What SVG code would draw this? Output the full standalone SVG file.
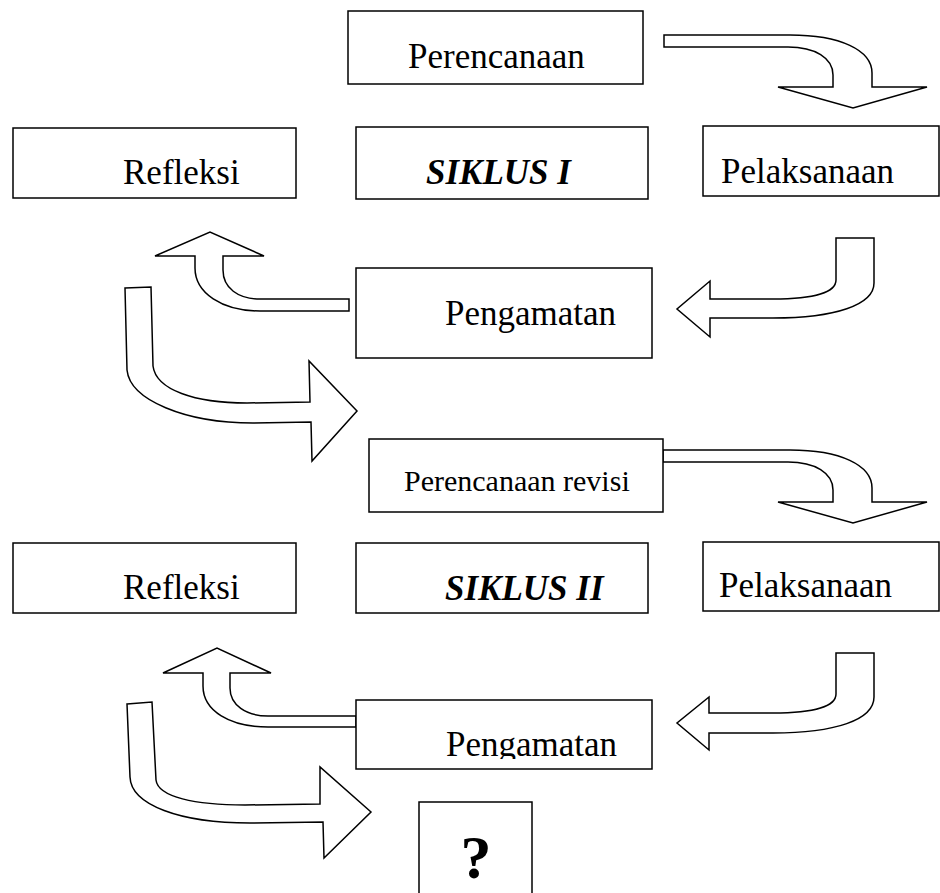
<svg xmlns="http://www.w3.org/2000/svg" width="940" height="893" viewBox="0 0 940 893">
<defs>
<style>
.box{fill:#fff;stroke:#000;stroke-width:1.5}
.arr{fill:#fff;stroke:#000;stroke-width:1.5;stroke-linejoin:miter}
.t{font-family:"Liberation Serif","Times New Roman",serif;font-size:35px;fill:#000}
.s{font-family:"Liberation Serif","Times New Roman",serif;font-size:30px;fill:#000}
.b{font-family:"Liberation Serif","Times New Roman",serif;font-size:35px;font-weight:bold;font-style:italic;fill:#000}
.q{font-family:"Liberation Serif","Times New Roman",serif;font-size:62px;font-weight:bold;fill:#000}
</style>
<clipPath id="clipP2"><rect x="356" y="700" width="296" height="59"/></clipPath>
</defs>
<rect width="940" height="893" fill="#fff"/>
<g id="connectors">
<path class="arr" d="M664,35 L790,35 C840,35 872,50 872,73 L872,87 L927,87 L853,108 L778,87 L833,87 L833,75 C833,58 815,47 788,47 L664,47 Z"/>
<path class="arr" d="M836,238 L874,238 L874,283 C874,305 835,318 773,318 L710,318 L710,337 L677,309 L710,281 L710,299 L773,299 C815,299 836,292 836,280 Z"/>
<path class="arr" d="M349,299 L260,299 C238,299 223,288 223,270 L223,256 L264,256 L210,232 L155,256 L195,256 L195,268 C195,293 222,311 260,311 L349,311 Z"/>
<path class="arr" d="M125,288 L151,287 L153,366 C156,390 195,403 247,403 L310,402 L309,361 L357,411 L312,461 L311,422 L253,423 C185,423 130,400 127,370 Z"/>
<path class="arr" d="M663,450 L790,450 C840,450 872,465 872,488 L872,502 L927,502 L853,523 L778,502 L833,502 L833,490 C833,473 815,462 788,462 L663,462 Z"/>
<path class="arr" d="M836,653 L874,653 L874,697 C874,720 835,733 773,733 L709,733 L709,750 L677,723 L709,697 L709,713 L773,713 C815,713 836,706 836,694 Z"/>
<path class="arr" d="M356,716 L268,716 C246,716 230,705 230,688 L230,673 L271,673 L217,648 L163,673 L203,673 L203,686 C203,711 230,727 268,727 L356,727 Z"/>
<path class="arr" d="M127,704 L152,702 L156,780 C158,797 195,805 245,805 L320,804 L320,767 L371,812 L324,858 L323,822 L250,823 C180,823 131,805 130,777 Z"/>
</g>
<g id="perencanaan">
<rect class="box" x="348" y="11" width="295" height="73"/>
<text class="t" x="408" y="68">Perencanaan</text>
</g>
<g id="refleksi1">
<rect class="box" x="13" y="128" width="283" height="70"/>
<text class="t" x="123" y="184">Refleksi</text>
</g>
<g id="siklus1">
<rect class="box" x="356" y="127" width="292" height="72"/>
<text class="b" x="426" y="184">SIKLUS I</text>
</g>
<g id="pelaksanaan1">
<rect class="box" x="703" y="126" width="236" height="70"/>
<text class="t" x="721" y="183">Pelaksanaan</text>
</g>
<g id="pengamatan1">
<rect class="box" x="356" y="268" width="296" height="90"/>
<text class="t" x="445" y="325">Pengamatan</text>
</g>
<g id="perencanaan-revisi">
<rect class="box" x="369" y="439" width="294" height="73"/>
<text class="s" x="404" y="491">Perencanaan revisi</text>
</g>
<g id="refleksi2">
<rect class="box" x="13" y="543" width="283" height="70"/>
<text class="t" x="123" y="599">Refleksi</text>
</g>
<g id="siklus2">
<rect class="box" x="356" y="543" width="292" height="70"/>
<text class="b" x="445" y="600">SIKLUS II</text>
</g>
<g id="pelaksanaan2">
<rect class="box" x="703" y="542" width="236" height="69"/>
<text class="t" x="719" y="597">Pelaksanaan</text>
</g>
<g id="pengamatan2">
<rect class="box" x="356" y="700" width="296" height="69"/>
<text class="t" x="446" y="756" clip-path="url(#clipP2)">Pengamatan</text>
</g>
<g id="question">
<rect class="box" x="419" y="802" width="113" height="100"/>
<text class="q" x="476" y="878" text-anchor="middle">?</text>
</g>
</svg>
